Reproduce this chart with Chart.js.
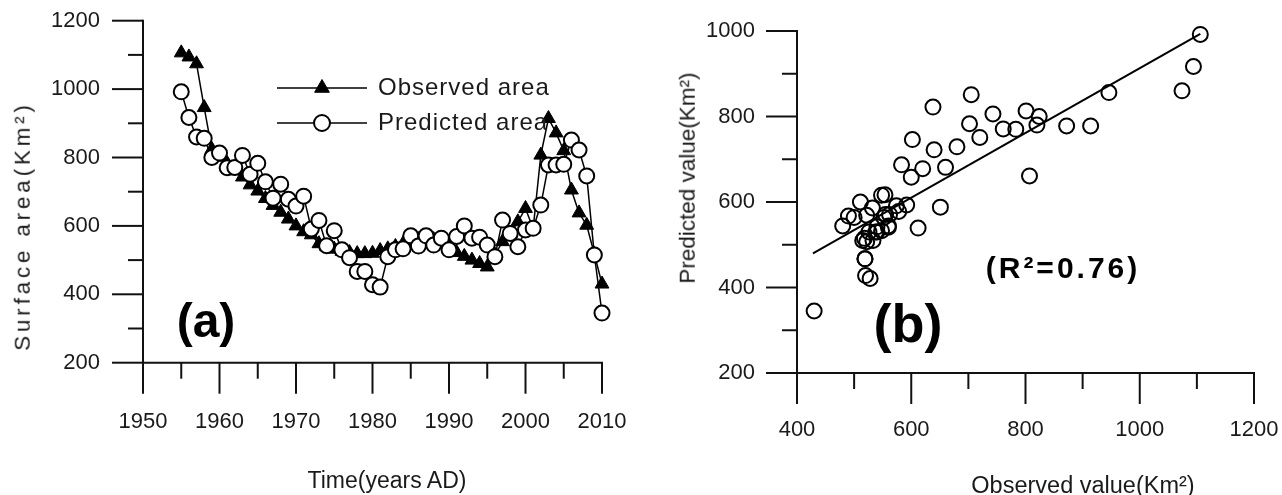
<!DOCTYPE html>
<html><head><meta charset="utf-8">
<script src="https://cdn.jsdelivr.net/npm/chart.js@4.4.1/dist/chart.umd.min.js"></script>
<style>
html,body{margin:0;padding:0;background:#fff;width:1282px;height:495px;overflow:hidden;font-family:"Liberation Sans",Arial,sans-serif;}
#wrap{position:relative;width:1282px;height:495px;}
canvas{position:absolute;top:0;}
#cA{left:0;} #cB{left:641px;}
.t{position:absolute;white-space:nowrap;color:#1a1a1a;transform:translate(-50%,-50%);line-height:1;}
.rot{transform:translate(-50%,-50%) rotate(-90deg);}
.b{font-weight:bold;color:#000;}
</style></head><body>
<div id="wrap">
<canvas id="cA" width="641" height="495"></canvas>
<canvas id="cB" width="641" height="495"></canvas>
<div class="t rot" style="left:23px;top:226px;font-size:22.5px;letter-spacing:3.8px">Surface area(Km²)</div>
<div class="t" style="left:387px;top:480px;font-size:23px;">Time(years AD)</div>
<div class="t rot" style="left:688px;top:178px;font-size:22.5px;">Predicted value(Km²)</div>
<div class="t" style="left:1083px;top:486px;font-size:23.5px;">Observed value(Km²)</div>
<div class="t b" style="left:206px;top:321px;font-size:48px;">(a)</div>
<div class="t b" style="left:908px;top:323px;font-size:54px;">(b)</div>
<div class="t b" style="left:1063px;top:268px;font-size:30px;letter-spacing:3px;">(R²=0.76)</div>
</div>
<script>
// ---- data ----
const years = [1955,1956,1957,1958,1959,1960,1961,1962,1963,1964,1965,1966,1967,1968,1969,1970,
  1971,1972,1973,1974,1975,1976,1977,1978,1979,1980,1981,1982,1983,1984,1985,1986,1987,1988,1989,1990,
  1991,1992,1993,1994,1995,1996,1997,1998,1999,2000,2001,2002,2003,2004,2005,2006,2007,2008,2009,2010];
const observedArea = [1106,1094,1074,946,824,801,783,761,743,720,702,680,660,640,620,600,
  583,574,548,540,532,526,522,519,519,520,528,533,540,548,555,560,562,560,552,538,
  522,511,500,490,480,515,554,578,612,651,592,807,914,872,820,705,638,602,518,430];
const predictedArea = [992,917,860,856,800,813,770,771,806,751,783,729,681,722,678,658,
  687,591,616,542,586,530,507,467,467,428,421,510,530,533,571,541,571,544,564,530,
  569,600,564,567,544,510,617,578,539,588,593,661,778,778,780,851,822,746,515,345];
// regression line end points (observed value, predicted value)
const fitObserved = [428, 1106];
const fitPredicted = [480, 993];
const yTicksA = [200,400,600,800,1000,1200];
const xTicksA = [1950,1960,1970,1980,1990,2000,2010];
const yTicksB = [200,400,600,800,1000];
const xTicksB = [400,600,800,1000,1200];

const FONT = '"Liberation Sans", Arial, sans-serif';
const INK = '#111';

const axisTicks = {
  id: 'axisTicks',
  afterDraw(chart, args, o) {
    const ctx = chart.ctx, xs = chart.scales.x, ys = chart.scales.y;
    const {left, right, top, bottom} = chart.chartArea;
    ctx.save();
    ctx.strokeStyle = INK; ctx.lineWidth = 2; ctx.lineCap = 'butt';
    ctx.beginPath(); ctx.moveTo(left, top - 1); ctx.lineTo(left, bottom); ctx.lineTo(right + 1, bottom); ctx.stroke();
    for (let v = ys.min; v <= ys.max + 1e-6; v += o.yMinor) {
      const p = ys.getPixelForValue(v);
      const major = Math.abs(((v - ys.min) % o.yMajor)) < 1e-6;
      ctx.beginPath(); ctx.moveTo(left, p); ctx.lineTo(left - (major ? 31 : 15), p); ctx.stroke();
    }
    for (let v = xs.min; v <= xs.max + 1e-6; v += o.xMinor) {
      const p = xs.getPixelForValue(v);
      const major = Math.abs(((v - xs.min) % o.xMajor)) < 1e-6;
      ctx.beginPath(); ctx.moveTo(p, bottom); ctx.lineTo(p, bottom + (major ? 31 : 16)); ctx.stroke();
    }
    ctx.restore();
  }
};

const legendA = {
  id: 'legendA',
  afterDraw(chart, args, o) {
    const ctx = chart.ctx;
    ctx.save();
    o.rows.forEach((r) => {
      const ds = chart.data.datasets[r.index];
      ctx.strokeStyle = ds.borderColor; ctx.lineWidth = ds.borderWidth;
      ctx.beginPath(); ctx.moveTo(o.x1, r.y); ctx.lineTo(o.x2, r.y); ctx.stroke();
      ctx.fillStyle = ds.pointBackgroundColor; ctx.strokeStyle = ds.pointBorderColor; ctx.lineWidth = ds.pointBorderWidth;
      Chart.helpers.drawPoint(ctx, {pointStyle: ds.pointStyle, radius: ds.pointRadius + 0.5, borderWidth: ds.pointBorderWidth, rotation: 0}, (o.x1 + o.x2) / 2, r.y);
      ctx.fillStyle = '#1a1a1a'; ctx.font = o.font; ctx.textBaseline = 'middle'; ctx.textAlign = 'left';
      if ('letterSpacing' in ctx) ctx.letterSpacing = o.spacing;
      ctx.fillText(ds.label, o.tx, r.y);
    });
    ctx.restore();
  }
};

function fixedAxis(size, dim) { return function (scale) { scale[dim] = size; }; }
const plain = (v) => String(v);
const tickFont = {family: FONT, size: 22};

new Chart(document.getElementById('cA'), {
  type: 'line',
  data: {
    datasets: [
      {label: 'Observed area', data: years.map((y, i) => ({x: y, y: observedArea[i]})),
        borderColor: '#000', borderWidth: 1.5, pointStyle: 'triangle', pointRadius: 8,
        pointBackgroundColor: '#000', pointBorderColor: '#000', pointBorderWidth: 1, order: 1, clip: false},
      {label: 'Predicted area', data: years.map((y, i) => ({x: y, y: predictedArea[i]})),
        borderColor: '#000', borderWidth: 1.5, pointStyle: 'circle', pointRadius: 7.5,
        pointBackgroundColor: '#fff', pointBorderColor: '#000', pointBorderWidth: 2, order: 0, clip: false}
    ]
  },
  options: {
    responsive: false, animation: false, events: [],
    layout: {padding: {left: 0, right: 39, top: 20.7, bottom: 0}},
    plugins: {legend: {display: false}, tooltip: {enabled: false},
      axisTicks: {yMinor: 100, yMajor: 200, xMinor: 5, xMajor: 10},
      legendA: {x1: 277, x2: 367, tx: 378, font: '24px ' + FONT, spacing: '1px', rows: [{index: 0, y: 88}, {index: 1, y: 123}]}},
    scales: {
      x: {type: 'linear', min: 1950, max: 2010, afterFit: fixedAxis(132.3, 'height'),
        grid: {display: false, drawTicks: true, tickLength: 46}, border: {display: false},
        afterBuildTicks: (s) => { s.ticks = xTicksA.map(v => ({value: v})); },
        ticks: {font: tickFont, color: '#1a1a1a', padding: 0, maxRotation: 0, autoSkip: false, callback: plain}},
      y: {min: 200, max: 1200, afterFit: fixedAxis(143, 'width'),
        grid: {display: false, drawTicks: true, tickLength: 43}, border: {display: false},
        afterBuildTicks: (s) => { s.ticks = yTicksA.map(v => ({value: v})); },
        ticks: {font: tickFont, color: '#1a1a1a', padding: 0, callback: plain}}
    }
  },
  plugins: [axisTicks, legendA]
});

new Chart(document.getElementById('cB'), {
  type: 'scatter',
  data: {
    datasets: [
      {label: 'Observed vs predicted', data: observedArea.map((v, i) => ({x: v, y: predictedArea[i]})),
        pointStyle: 'circle', pointRadius: 7.5, pointBackgroundColor: 'rgba(255,255,255,0)',
        pointBorderColor: '#000', pointBorderWidth: 2, clip: false},
      {label: 'Fit', type: 'line', data: fitObserved.map((v, i) => ({x: v, y: fitPredicted[i]})),
        borderColor: '#000', borderWidth: 2, pointRadius: 0, showLine: true, fill: false}
    ]
  },
  options: {
    responsive: false, animation: false, events: [],
    layout: {padding: {left: 0, right: 28, top: 31, bottom: 0}},
    plugins: {legend: {display: false}, tooltip: {enabled: false},
      axisTicks: {yMinor: 100, yMajor: 200, xMinor: 100, xMajor: 200}},
    scales: {
      x: {type: 'linear', min: 400, max: 1200, afterFit: fixedAxis(122, 'height'),
        grid: {display: false, drawTicks: true, tickLength: 44}, border: {display: false},
        afterBuildTicks: (s) => { s.ticks = xTicksB.map(v => ({value: v})); },
        ticks: {font: tickFont, color: '#1a1a1a', padding: 0, maxRotation: 0, autoSkip: false, callback: plain}},
      y: {min: 200, max: 1000, afterFit: fixedAxis(156, 'width'),
        grid: {display: false, drawTicks: true, tickLength: 42}, border: {display: false},
        afterBuildTicks: (s) => { s.ticks = yTicksB.map(v => ({value: v})); },
        ticks: {font: tickFont, color: '#1a1a1a', padding: 0, callback: plain}}
    }
  },
  plugins: [axisTicks]
});
</script>
</body></html>
